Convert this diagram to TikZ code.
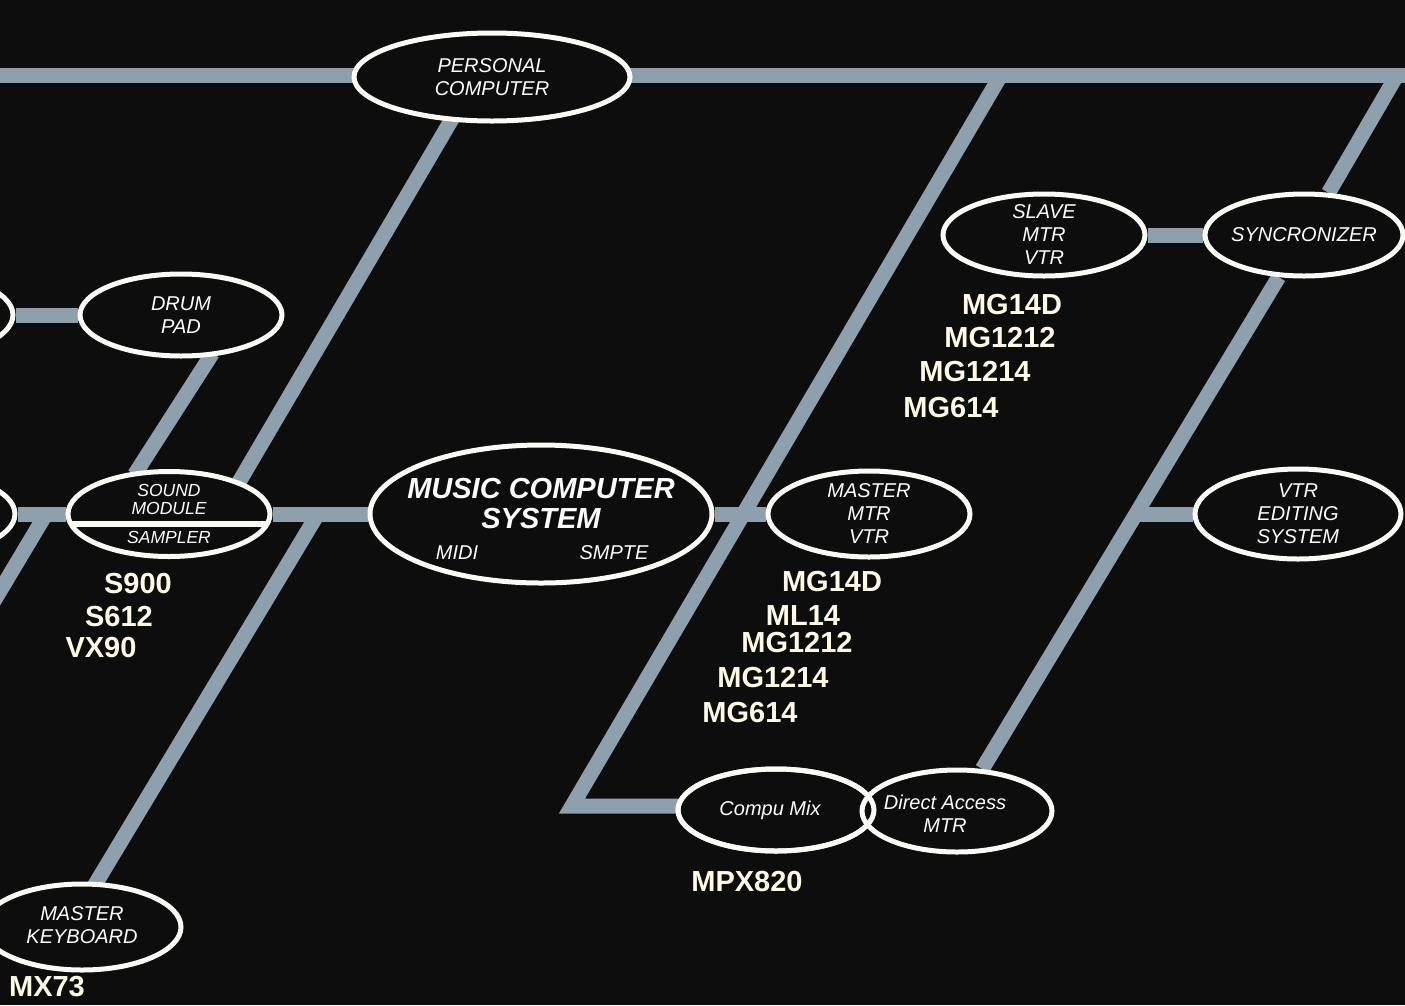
\documentclass[tikz,border=0pt]{standalone}
\usepackage{fontspec}
\setmainfont{Liberation Sans}
\usepackage{xcolor}
\usetikzlibrary{shapes.geometric,backgrounds,calc}

\definecolor{bgdark}{RGB}{13,13,13}
\definecolor{wirecol}{RGB}{142,159,173}
\definecolor{rimwhite}{RGB}{250,250,246}
\definecolor{cream}{RGB}{255,250,228}

\begin{document}
\begin{tikzpicture}[
  x=1pt, y=-1pt,
  unit/.style={ellipse, draw=rimwhite, line width=5pt, fill=bgdark, inner sep=0pt, minimum width=202pt, minimum height=84pt},
  tag/.style={text=white, align=center, inner sep=0pt, font=\fontsize{20}{23}\selectfont\itshape},
  small tag/.style={tag, font=\fontsize{17.5}{18}\selectfont\itshape},
  headline/.style={tag, font=\fontsize{29}{30}\selectfont\bfseries\itshape},
  model/.style={text=cream, inner sep=0pt, font=\fontsize{29}{31}\selectfont\bfseries},
  wire/.style={draw=wirecol, line width=15pt},
  reach/.style={shorten <=-4pt, shorten >=-4pt},
]
\useasboundingbox (0,0) rectangle (1405,1005);
% top bus
\node[unit, minimum width=276pt, minimum height=88pt, label={[tag]center:PERSONAL\\COMPUTER}] (pc) at (492,77) {};
% left column
\node[unit] (lefta) at (-88,315) {};
\node[unit, minimum height=82pt, label={[tag]center:DRUM\\PAD}] (drum) at (181,315) {};
\node[unit] (leftb) at (-86,514) {};
\node[unit, minimum height=85pt, label={[small tag, yshift=15pt]center:SOUND\\MODULE}, label={[small tag, yshift=-23pt]center:SAMPLER}] (sm) at (169,514) {};
\draw[rimwhite, line width=6pt] ([shift={(-99,10)}]sm.center) -- ([shift={(99,10)}]sm.center);
\node[unit, minimum width=198pt, minimum height=86pt, label={[tag, yshift=2pt]center:MASTER\\KEYBOARD}] (mkb) at (82,927) {};
% centre
\node[unit, minimum width=342pt, minimum height=138pt, label={[headline, yshift=10pt]center:MUSIC COMPUTER\\SYSTEM}, label={[tag, xshift=-84pt, yshift=-39pt]center:MIDI}, label={[tag, xshift=73pt, yshift=-39pt]center:SMPTE}] (mcs) at (541,514) {};
\node[unit, minimum height=86pt, label={[tag]center:MASTER\\MTR\\VTR}] (mmtr) at (869,514) {};
% right side
\node[unit, minimum height=82pt, label={[tag]center:SLAVE\\MTR\\VTR}] (smtr) at (1044,235) {};
\node[unit, minimum width=198pt, minimum height=82pt, label={[tag]center:SYNCRONIZER}] (sync) at (1304,235) {};
\node[unit, minimum width=206pt, minimum height=90pt, label={[tag]center:VTR\\EDITING\\SYSTEM}] (vtred) at (1298,514) {};
\node[unit, minimum width=196pt, minimum height=82pt, label={[tag, xshift=-6pt]center:Compu Mix}] (cmix) at (776,810) {};
\node[unit, minimum width=190pt, minimum height=82pt, label={[tag, xshift=-12pt, yshift=-3pt]center:Direct Access\\MTR}] (dam) at (957,811) {};
\draw[rimwhite, line width=5pt] (cmix.center) ellipse [x radius=98pt, y radius=41pt];
% model numbers
\node[model] (s900) at (138,584) {S900};
\node[model] (s612) at (119,617) {S612};
\node[model] (vx90) at (101,648) {VX90};
\node[model] (mx73) at (47,987) {MX73};
\node[model] (mmga) at (832,582) {MG14D};
\node[model] (mmgb) at (803,616) {ML14};
\node[model] (mmgc) at (797,643) {MG1212};
\node[model] (mmgd) at (773,678) {MG1214};
\node[model] (mmge) at (750,713) {MG614};
\node[model] (smga) at (1012,305) {MG14D};
\node[model] (smgb) at (1000,338) {MG1212};
\node[model] (smgc) at (975,372) {MG1214};
\node[model] (smgd) at (951,408) {MG614};
\node[model] (mpx) at (747,881) {MPX820};
% joints
\coordinate (topw) at (0,75);
\coordinate (tope) at (1405,75);
\coordinate (rtop) at (1397,75);
\coordinate (ltop) at (1001,75);
\coordinate (lbot) at (572,806);
\coordinate (kjoin) at ($(sm)!0.4!(mcs)$);
\coordinate (ljoin) at (46,514);
\coordinate (lfoot) at (-6,601);
\coordinate (vjoin) at ($(sync)!0.48!(dam)$);
% lines
\begin{scope}[on background layer]
\fill[bgdark] (0,0) rectangle (1405,1005);
\draw[wire] (topw) -- (tope);
\draw[wire] (rtop) -- (sync) -- (dam);
\draw[wire] (vjoin |- vtred) -- (vtred);
\draw[wire] (ltop) -- (lbot) -- (lbot -| cmix);
\draw[wire] (smtr) -- (sync);
\draw[wire] (leftb) -- (sm) -- (mcs) -- (mmtr);
\draw[wire] (lefta) -- (drum);
\draw[wire, reach] (pc.227) -- (sm.25);
\draw[wire, reach] (drum.305) -- (sm.127);
\draw[wire, shorten >=-4pt] (kjoin) -- (mkb.72);
\draw[wire] (ljoin) -- (lfoot);
\end{scope}
\end{tikzpicture}
\end{document}
